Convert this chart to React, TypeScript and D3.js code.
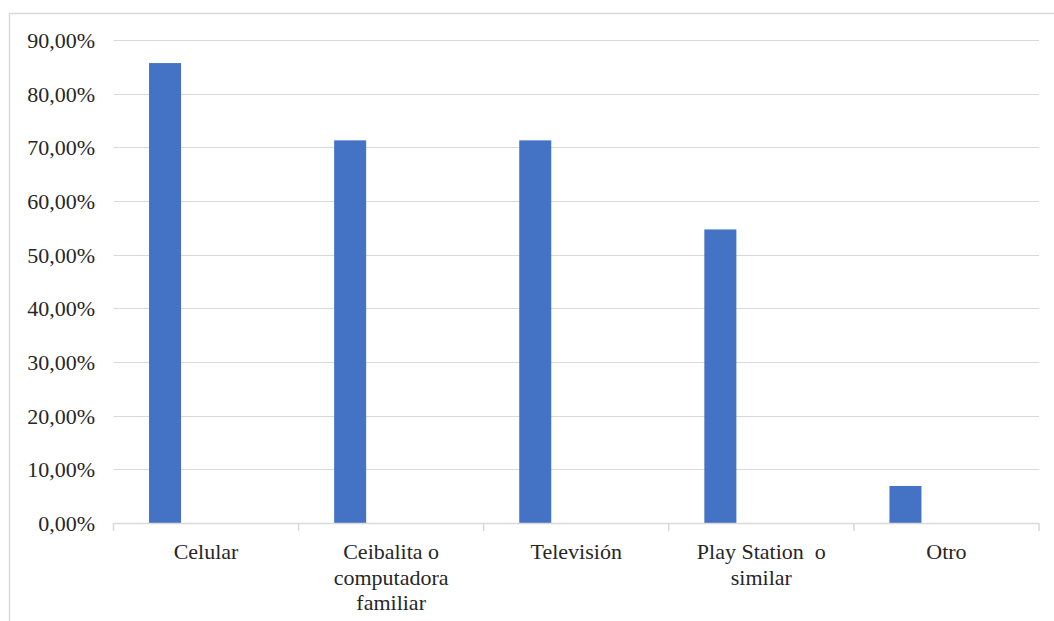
import { useEffect, useRef } from 'react';
import * as d3 from 'd3';

const categories = ['Celular', 'Ceibalita o computadora familiar', 'Televisión', 'Play Station  o similar', 'Otro'];
const labelLines = [['Celular'], ['Ceibalita o', 'computadora', 'familiar'], ['Televisión'], ['Play Station  o', 'similar'], ['Otro']];
const values = [85.7, 71.3, 71.3, 54.7, 6.9];
const yTicks = [0, 10, 20, 30, 40, 50, 60, 70, 80, 90];

function App() {
  const svgRef = useRef<SVGSVGElement | null>(null);
  const width = 1054;
  const height = 621;

  useEffect(() => {
    const svg = d3.select(svgRef.current);
    svg.selectAll('*').remove();

    const margin = { top: 40, right: 15, bottom: 98, left: 113.5 };
    const plotRight = width - margin.right;
    const plotBottom = height - margin.bottom;

    const x = d3.scaleBand<string>()
      .domain(categories)
      .range([margin.left, plotRight])
      .padding(0);

    const y = d3.scaleLinear()
      .domain([0, 90])
      .range([plotBottom, margin.top]);

    const font = 'Liberation Serif, DejaVu Serif, serif';
    const gridColor = '#d9d9d9';

    // outer chart border (runs off the page on the right and bottom)
    svg.append('rect')
      .attr('x', 9.5)
      .attr('y', 13.5)
      .attr('width', 1200)
      .attr('height', 800)
      .attr('fill', 'none')
      .attr('stroke', gridColor)
      .attr('stroke-width', 1.5);

    // gridlines
    svg.append('g')
      .selectAll('line')
      .data(yTicks.filter(d => d > 0))
      .join('line')
      .attr('x1', margin.left)
      .attr('x2', plotRight)
      .attr('y1', d => Math.round(y(d)) + 0.5)
      .attr('y2', d => Math.round(y(d)) + 0.5)
      .attr('stroke', gridColor)
      .attr('stroke-width', 1);

    // y tick labels
    svg.append('g')
      .selectAll('text')
      .data(yTicks)
      .join('text')
      .attr('x', 95)
      .attr('y', d => y(d))
      .attr('dy', '0.36em')
      .attr('text-anchor', 'end')
      .style('font-family', font)
      .style('font-size', '22px')
      .attr('fill', '#262626')
      .text(d => d3.format('.2f')(d).replace('.', ',') + '%');

    // bars
    const bw = x.bandwidth();
    svg.append('g')
      .selectAll('rect')
      .data(values)
      .join('rect')
      .attr('x', (d, i) => (x(categories[i]) as number) + bw * 0.192)
      .attr('width', bw * 0.173)
      .attr('y', d => y(d))
      .attr('height', d => plotBottom - y(d))
      .attr('fill', '#4472c4');

    // x axis line and ticks
    const axis = svg.append('g');
    axis.append('line')
      .attr('x1', margin.left)
      .attr('x2', plotRight)
      .attr('y1', plotBottom + 0.5)
      .attr('y2', plotBottom + 0.5)
      .attr('stroke', gridColor)
      .attr('stroke-width', 1.5);
    const tickXs = categories.map(c => x(c) as number).concat([plotRight]);
    axis.selectAll('line.tick')
      .data(tickXs)
      .join('line')
      .attr('class', 'tick')
      .attr('x1', d => d)
      .attr('x2', d => d)
      .attr('y1', plotBottom)
      .attr('y2', plotBottom + 8)
      .attr('stroke', gridColor)
      .attr('stroke-width', 1.5);

    // category labels
    const labels = svg.append('g')
      .selectAll('text')
      .data(categories)
      .join('text')
      .attr('text-anchor', 'middle')
      .style('font-family', font)
      .style('font-size', '22px')
      .attr('fill', '#262626')
      .style('white-space', 'pre');
    labels.each(function (c, i) {
      const cx = (x(c) as number) + bw / 2;
      d3.select(this)
        .selectAll('tspan')
        .data(labelLines[i])
        .join('tspan')
        .attr('x', cx)
        .attr('y', (d, j) => plotBottom + 36 + j * 25.7)
        .text(d => d);
    });
  }, []);

  return (
    <svg
      ref={svgRef}
      width={width}
      height={height}
      style={{ position: 'absolute', left: 0, top: 0, display: 'block', background: '#fff' }}
    />
  );
}

export default App;
